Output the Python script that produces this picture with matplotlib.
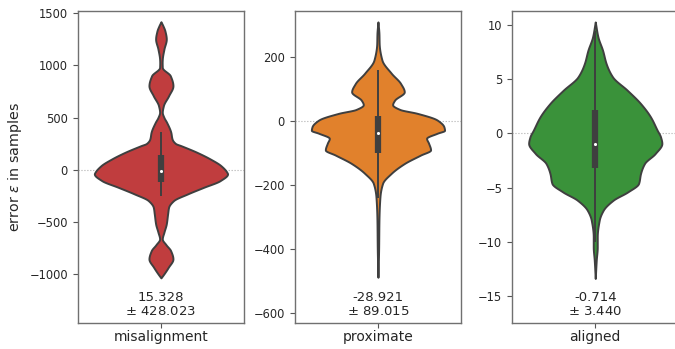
import numpy as np
import matplotlib
matplotlib.use("Agg")
import matplotlib.pyplot as plt
from matplotlib.transforms import blended_transform_factory

# ---------------- data ----------------
categories = ["misalignment", "proximate", "aligned"]
means = ["15.328", "-28.921", "-0.714"]
stds = ["428.023", "89.015", "3.440"]
colors = ["#c03d3e", "#e1812c", "#3a923a"]

# violin outlines: value and relative half-width (1 = widest)
mis_vals = [1419, 1380, 1330, 1253, 1157, 1060, 1029, 981, 901, 805, 709, 614, 550,
            500, 454, 358, 294, 250, 230, 166, 102, 38, -26, -41, -105, -170, -233,
            -297, -361, -425, -521, -600, -665, -720, -777, -857, -937, -1000, -1039]
mis_dens = [0.0, 0.03, 0.06, 0.08, 0.045, 0.02, 0.018, 0.02, 0.14, 0.18, 0.115, 0.037, 0.02,
            0.045, 0.085, 0.148, 0.167, 0.22, 0.30, 0.54, 0.74, 0.90, 0.99, 1.0, 0.89, 0.64, 0.40,
            0.19, 0.115, 0.10, 0.08, 0.045, 0.02, 0.075, 0.145, 0.18, 0.11, 0.045, 0.0]

pro_vals = [308, 270, 241, 189, 148, 116, 90, 64, 50, 35, 23, 2, -19, -30, -39, -55,
            -70, -91, -107, -133, -164, -195, -237, -309, -400, -488]
pro_dens = [0.0, 0.015, 0.018, 0.06, 0.20, 0.34, 0.395, 0.25, 0.22, 0.33, 0.59, 0.89, 0.99, 1.0,
            0.89, 0.73, 0.76, 0.79, 0.64, 0.40, 0.20, 0.07, 0.03, 0.015, 0.01, 0.0]

ali_vals = [10.31, 8.93, 7.69, 6.47, 5.23, 4.0, 2.77, 1.53, 0.30, -0.31, -0.92, -1.85,
            -2.77, -3.70, -4.62, -5.39, -6.16, -7.09, -8.01, -9.55, -10.48, -11.7, -13.4]
ali_dens = [0.0, 0.04, 0.11, 0.163, 0.26, 0.48, 0.68, 0.83, 0.93, 0.98, 1.0, 0.90,
            0.74, 0.68, 0.65, 0.49, 0.27, 0.12, 0.06, 0.03, 0.03, 0.015, 0.0]

# inner box: whisker low, q1, median, q3, whisker high
mis_box = [-249, -122, -16, 144, 364]
pro_box = [-240, -100, -37, 16, 158]
ali_box = [-10.0, -3.23, -0.99, 2.15, 9.5]

ylims = [(-1467, 1522), (-629, 342), (-17.47, 11.32)]
yticks = [[-1000, -500, 0, 500, 1000, 1500],
          [-600, -400, -200, 0, 200],
          [-15, -10, -5, 0, 5, 10]]

violins = [(mis_vals, mis_dens, mis_box), (pro_vals, pro_dens, pro_box), (ali_vals, ali_dens, ali_box)]


def smooth_outline(x, y, n=600):
    """Monotone cubic (PCHIP) curve through the read points, for a smooth outline."""
    x = np.asarray(x, float)
    y = np.asarray(y, float)
    order = np.argsort(x)
    x, y = x[order], y[order]
    h = np.diff(x)
    delta = np.diff(y) / h
    m = np.zeros_like(x)
    for k in range(1, len(x) - 1):
        if delta[k - 1] * delta[k] > 0:
            w1 = 2 * h[k] + h[k - 1]
            w2 = h[k] + 2 * h[k - 1]
            m[k] = (w1 + w2) / (w1 / delta[k - 1] + w2 / delta[k])
    m[0] = delta[0]
    m[-1] = delta[-1]
    xs = np.linspace(x[0], x[-1], n)
    idx = np.clip(np.searchsorted(x, xs) - 1, 0, len(x) - 2)
    t = (xs - x[idx]) / h[idx]
    h00 = 2 * t**3 - 3 * t**2 + 1
    h10 = t**3 - 2 * t**2 + t
    h01 = -2 * t**3 + 3 * t**2
    h11 = t**3 - t**2
    ys = h00 * y[idx] + h10 * h[idx] * m[idx] + h01 * y[idx + 1] + h11 * h[idx] * m[idx + 1]
    return xs, np.clip(ys, 0, None)


# ---------------- figure ----------------
W, H = 675, 349
fig = plt.figure(figsize=(W / 100, H / 100), dpi=100)
lefts = [77.7, 294.7, 512]
aw = 166.5
bottom_px, top_px = 322.5, 11
line_col = "#3f3f3f"

for i, (vals, dens, box) in enumerate(violins):
    ax = fig.add_axes([lefts[i] / W, 1 - bottom_px / H, aw / W, (bottom_px - top_px) / H])
    v, d = smooth_outline(vals, dens)
    d = d * 0.4
    ax.axhline(0, color="#b0b0b0", lw=0.8, ls=":", zorder=0)
    ax.fill_betweenx(v, -d, d, facecolor=colors[i], edgecolor=line_col, lw=1.4, zorder=2)
    lo, q1, med, q3, hi = box
    ax.plot([0, 0], [lo, hi], color=line_col, lw=1.4, zorder=3, solid_capstyle="butt")
    ax.plot([0, 0], [q1, q3], color=line_col, lw=4.5, zorder=3, solid_capstyle="butt")
    ax.scatter([0], [med], s=5, color="white", zorder=4, linewidths=0)
    ax.set_xlim(-0.5, 0.5)
    ax.set_ylim(*ylims[i])
    ax.set_yticks(yticks[i])
    ax.set_xticks([0])
    ax.set_xticklabels([categories[i]], fontsize=10, color="#262626")
    ax.tick_params(axis="y", labelsize=8.3, colors="#262626", length=3.5, width=0.8)
    ax.tick_params(axis="x", length=3.5, width=0.8, colors="#262626", pad=2)
    ax.tick_params(axis="both", color="#555555")
    for sp in ax.spines.values():
        sp.set_color("#707070")
        sp.set_linewidth(1.0)
    tr = blended_transform_factory(ax.transData, ax.transAxes)
    ax.text(0, 0.015, f"{means[i]}\n$\\pm$ {stds[i]}", transform=tr, ha="center", va="bottom",
            fontsize=9.5, color="#262626", linespacing=1.1)
    if i == 0:
        ax.set_ylabel("error $\\epsilon$ in samples", fontsize=10.3, color="#262626", labelpad=4)

fig.savefig("out.png", dpi=100)
